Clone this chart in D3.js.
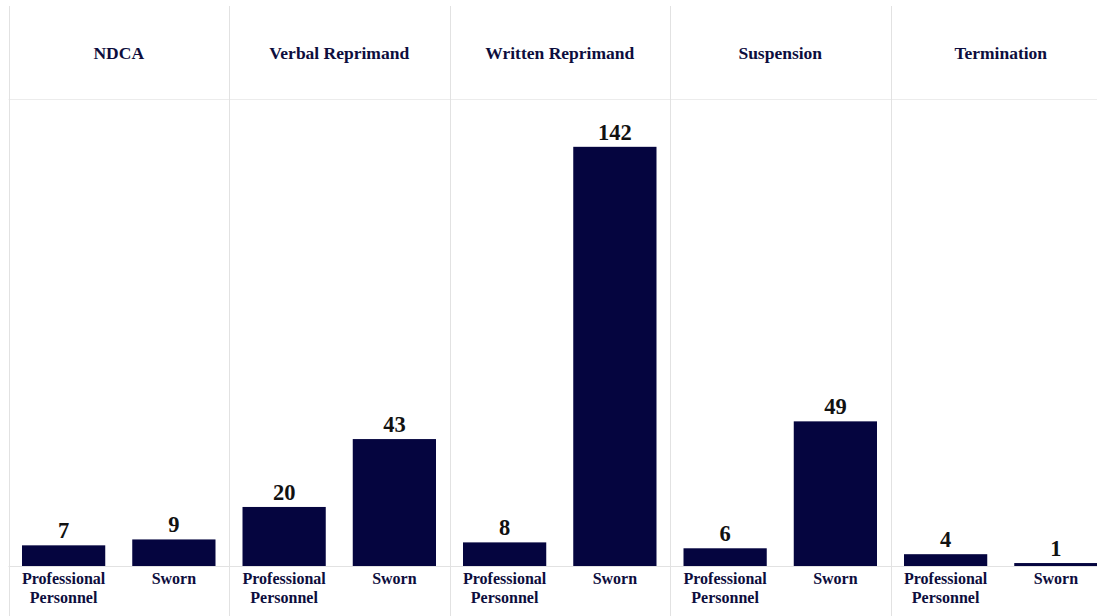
<!DOCTYPE html>
<html>
<head>
<meta charset="utf-8">
<script src="https://cdn.jsdelivr.net/npm/d3@7"></script>
<style>
  html, body { margin: 0; padding: 0; background: #fff; }
  svg { display: block; }
  text { font-family: "Liberation Serif", "Times New Roman", serif; font-weight: bold; }
</style>
</head>
<body>
<svg id="chart" width="1097" height="616"></svg>
<script>
// Discipline outcomes by employee type
const actions = ["NDCA", "Verbal Reprimand", "Written Reprimand", "Suspension", "Termination"];
const employeeTypes = ["Professional Personnel", "Sworn"];
const professionalCounts = [7, 20, 8, 6, 4];
const swornCounts = [9, 43, 142, 49, 1];

const W = 1097, H = 616;
const left = 8.5, panelW = 220.5;
const topY = 6, headerY = 99, baseY = 566;

const svg = d3.select("#chart");
const gridColor = "#e2e2e2";
const barColor = "#05053f";
const labelColor = "#0d0d3d";

// one column per disciplinary action
const xPanel = d3.scaleBand().domain(actions).range([left, left + panelW * actions.length]).padding(0);
// two bars per column
const xInner = d3.scaleBand().domain(employeeTypes).range([0, panelW]).paddingInner(0.245).paddingOuter(0.1225);
const y = d3.scaleLinear().domain([0, 158.2]).range([baseY, headerY]);

const rows = actions.map((a, i) => ({
  action: a,
  values: [
    { type: employeeTypes[0], value: professionalCounts[i] },
    { type: employeeTypes[1], value: swornCounts[i] }
  ]
}));

// horizontal rules: header separator and baseline
svg.append("line").attr("x1", left).attr("x2", W).attr("y1", headerY + 0.5).attr("y2", headerY + 0.5)
  .attr("stroke", "#ececec").attr("stroke-width", 1);
svg.append("line").attr("x1", left).attr("x2", W).attr("y1", baseY + 0.5).attr("y2", baseY + 0.5)
  .attr("stroke", gridColor).attr("stroke-width", 1);

// vertical panel dividers
svg.selectAll("line.divider").data(actions).join("line")
  .attr("class", "divider")
  .attr("x1", d => Math.round(xPanel(d)) + 0.5)
  .attr("x2", d => Math.round(xPanel(d)) + 0.5)
  .attr("y1", topY).attr("y2", H)
  .attr("stroke", gridColor).attr("stroke-width", 1);

const panels = svg.selectAll("g.panel").data(rows).join("g")
  .attr("class", "panel")
  .attr("transform", d => `translate(${xPanel(d.action)},0)`);

// column headers
panels.append("text")
  .attr("x", panelW / 2).attr("y", 58.5)
  .attr("text-anchor", "middle")
  .attr("font-size", 17.5)
  .attr("fill", labelColor)
  .text(d => d.action);

// bars
panels.selectAll("rect").data(d => d.values).join("rect")
  .attr("x", d => xInner(d.type))
  .attr("width", xInner.bandwidth())
  .attr("y", d => y(d.value))
  .attr("height", d => baseY - y(d.value))
  .attr("fill", barColor);

// value labels
panels.selectAll("text.val").data(d => d.values).join("text")
  .attr("class", "val")
  .attr("x", d => xInner(d.type) + xInner.bandwidth() / 2)
  .attr("y", d => y(d.value) - 7)
  .attr("text-anchor", "middle")
  .attr("font-size", 22.5)
  .attr("fill", "#111")
  .text(d => d.value);

// category labels under each bar
panels.selectAll("text.cat").data(d => d.values).join("text")
  .attr("class", "cat")
  .attr("x", d => xInner(d.type) + xInner.bandwidth() / 2)
  .attr("y", 583.5)
  .attr("text-anchor", "middle")
  .attr("font-size", 16)
  .attr("fill", labelColor)
  .selectAll("tspan").data(d => d.type.split(" ")).join("tspan")
  .attr("x", function () { return d3.select(this.parentNode).attr("x"); })
  .attr("dy", (d, i) => i === 0 ? 0 : 19)
  .text(d => d);
</script>
</body>
</html>
